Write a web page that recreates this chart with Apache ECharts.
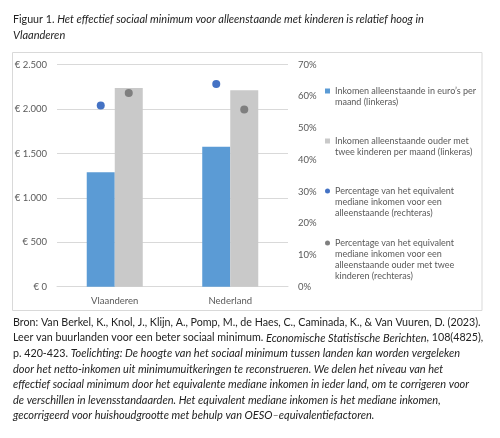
<!DOCTYPE html>
<html>
<head>
<meta charset="utf-8">
<script src="https://cdn.jsdelivr.net/npm/echarts@6/dist/echarts.min.js"></script>
<style>
html,body{margin:0;padding:0;background:#fff;}
#chart{width:500px;height:438px;}
</style>
</head>
<body>
<div id="chart"></div>
<script>
// ---- data ----
var categories = ['Vlaanderen', 'Nederland'];
var incomeSingle = [1288, 1577];          // € per maand (linkeras)
var incomeParent = [2238, 2212];          // € per maand (linkeras)
var pctSingle = [0.571, 0.639];           // rechteras
var pctParent = [0.611, 0.559];           // rechteras
var leftTicks = [0, 500, 1000, 1500, 2000, 2500];
var rightTicks = [0, 0.1, 0.2, 0.3, 0.4, 0.5, 0.6, 0.7];
var seriesNames = [
  'Inkomen alleenstaande in euro\u2019s per\nmaand (linkeras)',
  'Inkomen alleenstaande ouder met\ntwee kinderen per maand (linkeras)',
  'Percentage van het equivalent\nmediane inkomen voor een\nalleenstaande (rechteras)',
  'Percentage van het equivalent\nmediane inkomen voor een\nalleenstaande ouder met twee\nkinderen (rechteras)'
];

var FONT = 'Lato, "Open Sans", sans-serif';
var GREY_TEXT = '#595959';
var LH = 11;

function euro(v) {
  return '\u20ac ' + String(v).replace(/\B(?=(\d{3})+(?!\d))/g, '.');
}

// legend icon aligned with the first text line
function iconPath(shape, H) {
  var c = LH / 2;
  var body;
  if (shape === 'rect') {
    body = 'M0,' + (c - 2.5) + 'L5,' + (c - 2.5) + 'L5,' + (c + 2.5) + 'L0,' + (c + 2.5) + 'Z';
  } else {
    body = 'M0,' + c + 'A2.5,2.5 0 1 1 5,' + c + 'A2.5,2.5 0 1 1 0,' + c + 'Z';
  }
  return 'path://M0,0L0,0 ' + body + ' M5,' + H + 'L5,' + H;
}

function legendFor(i, firstLineY, shape) {
  var n = seriesNames[i].split('\n').length;
  var H = n * LH;
  return {
    data: [{ name: seriesNames[i], icon: iconPath(shape, H) }],
    left: 325,
    top: firstLineY - LH / 2,
    padding: 0,
    itemWidth: 5,
    itemHeight: H,
    selectedMode: false,
    textStyle: { fontFamily: FONT, fontSize: 9, color: GREY_TEXT, lineHeight: LH }
  };
}

var chart = echarts.init(document.getElementById('chart'), null, { renderer: 'canvas' });

var TXT = 10.7;
var TXT_I = 11;

var option = {
  animation: false,
  backgroundColor: '#fff',
  textStyle: { fontFamily: FONT },
  grid: { left: 57, right: 212, top: 64.7, bottom: 151.3, containLabel: false },
  legend: [
    legendFor(0, 91, 'rect'),
    legendFor(1, 141, 'rect'),
    legendFor(2, 191, 'circle'),
    legendFor(3, 243, 'circle')
  ],
  xAxis: [{
    type: 'category',
    data: categories,
    axisLine: { show: true, lineStyle: { color: '#D9D9D9', width: 1 } },
    axisTick: { show: false },
    axisLabel: { color: GREY_TEXT, fontSize: 9.5, fontFamily: FONT, margin: 9 }
  }],
  yAxis: [{
    type: 'value',
    min: 0, max: 2500, interval: 500,
    axisLine: { show: false },
    axisTick: { show: false },
    splitLine: { lineStyle: { color: '#D9D9D9', width: 1 } },
    axisLabel: { color: GREY_TEXT, fontSize: 9.5, fontFamily: FONT, margin: 10, formatter: euro }
  }, {
    type: 'value',
    min: 0, max: 0.7, interval: 0.1,
    position: 'right',
    axisLine: { show: false },
    axisTick: { show: false },
    splitLine: { show: false },
    axisLabel: { color: GREY_TEXT, fontSize: 9.5, fontFamily: FONT, margin: 10,
      formatter: function (v) { return Math.round(v * 100) + '%'; } }
  }],
  series: [{
    name: seriesNames[0], type: 'bar', yAxisIndex: 0,
    data: incomeSingle, barGap: '0%', barCategoryGap: '51.5%',
    itemStyle: { color: '#5B9BD5' }
  }, {
    name: seriesNames[1], type: 'bar', yAxisIndex: 0,
    data: incomeParent, barGap: '0%', barCategoryGap: '51.5%',
    itemStyle: { color: '#C9C9C9' }
  }, {
    name: seriesNames[2], type: 'pictorialBar', yAxisIndex: 1,
    data: pctSingle, barGap: '0%', barCategoryGap: '51.5%',
    symbol: 'circle', symbolSize: [8, 8], symbolPosition: 'end', symbolOffset: [0, '-50%'],
    itemStyle: { color: '#4472C4' }, z: 5
  }, {
    name: seriesNames[3], type: 'pictorialBar', yAxisIndex: 1,
    data: pctParent, barGap: '0%', barCategoryGap: '51.5%',
    symbol: 'circle', symbolSize: [8, 8], symbolPosition: 'end', symbolOffset: [0, '-50%'],
    itemStyle: { color: '#7F7F7F' }, z: 5
  }],
  graphic: [
    { type: 'rect', shape: { x: 12.5, y: 52.5, width: 469.5, height: 258 },
      style: { fill: 'none', stroke: '#D9D9D9', lineWidth: 1 }, z: -10, silent: true },
    { type: 'text', left: 13, top: 14, style: {
      text: '{n|Figuur 1. }{i|Het effectief sociaal minimum voor alleenstaande met kinderen is relatief hoog in}\n{i|Vlaanderen}',
      rich: {
        n: { fontFamily: FONT, fontSize: TXT, fill: '#222', lineHeight: 16 },
        i: { fontFamily: FONT, fontSize: TXT_I, fontStyle: 'italic', fill: '#222', lineHeight: 16 }
      } } },
    { type: 'text', left: 13, top: 317, style: {
      text: [
        '{n|Bron: Van Berkel, K., Knol, J., Klijn, A., Pomp, M., de Haes, C., Caminada, K., & Van Vuuren, D. (2023).}',
        '{n|Leer van buurlanden voor een beter sociaal minimum. }{i|Economische Statistische Berichten}{n|, 108(4825),}',
        '{n|p. 420-423. }{i|Toelichting: De hoogte van het sociaal minimum tussen landen kan worden vergeleken}',
        '{i|door het netto-inkomen uit minimumuitkeringen te reconstrueren. We delen het niveau van het}',
        '{i|effectief sociaal minimum door het equivalente mediane inkomen in ieder land, om te corrigeren voor}',
        '{i|de verschillen in levensstandaarden. Het equivalent mediane inkomen is het mediane inkomen,}',
        '{i|gecorrigeerd voor huishoudgrootte met behulp van OESO\u2013equivalentiefactoren.}'
      ].join('\n'),
      rich: {
        n: { fontFamily: FONT, fontSize: TXT, fill: '#222', lineHeight: 15.5 },
        i: { fontFamily: FONT, fontSize: TXT_I, fontStyle: 'italic', fill: '#222', lineHeight: 15.5 }
      } } }
  ]
};
chart.setOption(option);
</script>
</body>
</html>
